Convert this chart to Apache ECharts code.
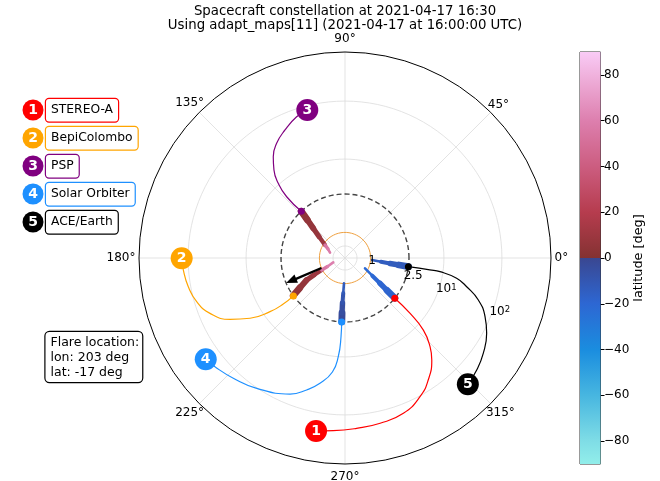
<!DOCTYPE html>
<html><head><meta charset="utf-8">
<script src="https://cdn.jsdelivr.net/npm/echarts@6.0.0/dist/echarts.min.js"></script>
<style>html,body{margin:0;padding:0;background:#fff}#c{width:660px;height:481px}</style>
</head><body><div id="c"></div>
<script>
// ---------------- data (lon [deg], R [solar radii]) ----------------
const scNames = ['STEREO-A', 'BepiColombo', 'PSP', 'Solar Orbiter', 'ACE/Earth'];
// Parker spirals, from source surface (2.5 Rs) out to the spacecraft
const spiralSTA  = [[321.1,2.5],[319.6,5.8],[317.4,13.5],[313.8,25.9],[310.4,40.1],[304.3,69.3],[298.4,103],[290.6,143],[282.0,161],[273.9,173],[266.1,190],[260.5,208]];
const spiralBepi = [[216.3,2.5],[216.7,4.19],[215.6,7.66],[212.4,17.1],[208.1,34.8],[202.3,64.6],[196.4,91.2],[190.4,110],[184.2,123],[180.1,129]];
const spiralPSP  = [[133.1,2.5],[133.6,5.66],[131.8,10.5],[128.9,17.6],[125.3,27.2],[120.8,39.5],[115.1,54],[108.9,74],[104.3,84.5]];
const spiralSolO = [[267.0,2.5],[267.1,4.5],[266.1,10.0],[263.7,18.7],[258.7,31.5],[253.8,46.1],[248.0,66.7],[235.9,102],[227.1,133],[219.9,165],[216.0,183]];
const spiralACE  = [[352.2,2.5],[352.0,5.9],[351.8,8.9],[349.7,17.8],[346.7,28.2],[342.5,50.7],[337.3,81.6],[332.0,115],[325.4,155],[319.6,189],[314.2,215]];
// PFSS field lines below the source surface: [lon, R, latitude]
const fieldSTA  = [[321.2,2.5,-18],[322.4,2.07,-19],[324.2,1.67,-20],[327.0,1.27,-21],[332.8,0.88,-22]];
const fieldBepi = [[216.0,2.5,5],[213.5,2.12,6],[209.9,1.73,8],[208.7,1.38,10],[207.2,1.02,55],[205.9,0.76,60],[200.2,0.49,65]];
const fieldPSP  = [[133.1,2.5,5],[134.6,2.09,6],[136.9,1.70,7],[140.5,1.31,9],[147.0,0.93,55],[152.1,0.75,58],[160.5,0.62,60]];
const fieldSolO = [[267.1,2.5,-2],[266.9,2.15,-5],[266.8,1.76,-9],[267.1,1.37,-13],[267.7,0.99,-18]];
const fieldACE  = [[352.2,2.5,-12],[352.6,2.13,-13],[353.0,1.77,-14],[354.0,1.41,-14],[355.8,1.06,-15]];
// flare
const flareLon = 203, flareLat = -17;
const flareFrom = 1.0, sourceSurface = 2.5, sunRadius = 1.0;
// axis ticks
const angleTicks = [0, 45, 90, 135, 180, 225, 270, 315];
const rTicks = [1, 2.5, 10, 100];
const rTickLabels = ['1', '2.5', '10{s|1}', '10{s|2}'];
const gridR = [0.47, 10, 100];
const cbTicks = [-80, -60, -40, -20, 0, 20, 40, 60, 80];

// ---------------- styles ----------------
const scColors = ['#ff0000', '#ffa500', '#800080', '#1e90ff', '#000000'];
const spirals = [spiralSTA, spiralBepi, spiralPSP, spiralSolO, spiralACE];
const fields = [fieldSTA, fieldBepi, fieldPSP, fieldSolO, fieldACE];
const FONT = '"DejaVu Sans"';
const cmapStops = [
  [-90, '#92eeea'], [-80, '#7fdde6'], [-60, '#47b6e0'], [-40, '#1a8ddf'], [-20, '#2d67d3'], [-0.001, '#3a4791'],
  [0.001, '#843232'], [20, '#b63c4e'], [40, '#cc5d80'], [60, '#dd7fae'], [80, '#f0b2dd'], [90, '#f9cbf6']
];
function hex2rgb(h){ return [1,3,5].map(i => parseInt(h.substr(i,2),16)); }
function cmap(lat){
  if (lat <= cmapStops[0][0]) return cmapStops[0][1];
  for (let i = 1; i < cmapStops.length; i++) {
    if (lat <= cmapStops[i][0]) {
      const [l0,c0] = cmapStops[i-1], [l1,c1] = cmapStops[i];
      const t = (lat - l0) / (l1 - l0), a = hex2rgb(c0), b = hex2rgb(c1);
      return 'rgb(' + a.map((v,k) => Math.round(v + (b[k]-v)*t)).join(',') + ')';
    }
  }
  return cmapStops[cmapStops.length-1][1];
}

// radial scale: linear inside source surface, logarithmic outside (plot units = px)
const LIN = 25.6, DEC = 58, RMAX_PX = 206;
function T(R){ return R <= sourceSurface ? LIN*R : LIN*sourceSurface + DEC*Math.log10(R/sourceSurface); }
function circlePts(R){ const p=[]; for(let a=0;a<=360;a+=3) p.push([T(R), a]); return p; }
const toPolar = p => [T(p[1]), p[0]];
const HIDDEN = {color:'rgba(0,0,0,0)', opacity:1};

const series = [];
gridR.forEach(R => series.push({type:'line', coordinateSystem:'polar', data:circlePts(R), symbol:'none', silent:true,
  lineStyle:{color:'#dcdcdc', width:0.8}, z:1}));
series.push({type:'line', coordinateSystem:'polar', data:circlePts(sunRadius), symbol:'none', silent:true,
  lineStyle:{color:'#eea040', width:1}, z:2});
series.push({type:'line', coordinateSystem:'polar', data:circlePts(sourceSurface), symbol:'none', silent:true,
  lineStyle:{color:'#444444', width:1.4, type:[5,3]}, z:2});

// spirals
spirals.forEach((sp, k) => series.push({type:'line', coordinateSystem:'polar', data:sp.map(toPolar), symbol:'none',
  smooth:0.5, lineStyle:{color:scColors[k], width:1.2}, z:3}));

// field lines, tapered & coloured by latitude
fields.forEach(fl => {
  const n = fl.length - 1;
  for (let i = 0; i < n; i++) {
    const t = n > 1 ? i/(n-1) : 0;
    series.push({type:'line', coordinateSystem:'polar', data:[toPolar(fl[i]), toPolar(fl[i+1])], symbol:'none', silent:true,
      lineStyle:{color:cmap(fl[i][2]), width:6.8 - 4.2*t, cap:'round'}, z:4});
  }
});

// flare arrow
const fr = flareLon*Math.PI/180;
series.push({type:'line', coordinateSystem:'polar', data:[[T(flareFrom), flareLon],[T(sourceSurface)-7, flareLon]], symbol:'none',
  lineStyle:{color:'#000', width:2.4}, z:7});
series.push({type:'scatter', coordinateSystem:'polar', data:[[T(sourceSurface), flareLon]], symbol:'triangle', symbolSize:[9,11],
  symbolRotate:flareLon-90, symbolOffset:[-5.5*Math.cos(fr), 5.5*Math.sin(fr)],
  itemStyle:{color:'#000', opacity:1}, z:7});

// footpoints on the source surface
series.push({type:'scatter', coordinateSystem:'polar', symbol:'circle', symbolSize:7, z:8,
  data: spirals.map((sp,k) => ({value: toPolar(sp[0]), itemStyle:{color:scColors[k], opacity:1}}))});

// spacecraft markers
series.push({type:'scatter', coordinateSystem:'polar', symbol:'circle', symbolSize:22, z:10,
  data: spirals.map((sp,k) => ({value: toPolar(sp[sp.length-1]), itemStyle:{color:scColors[k], opacity:1}})),
  label:{show:true, position:'inside', formatter: p => String(p.dataIndex+1), color:'#fff', fontWeight:'bold', fontSize:14, fontFamily:FONT}});

// radial tick labels
series.push({type:'scatter', coordinateSystem:'polar', symbolSize:1, itemStyle:HIDDEN, z:9, silent:true,
  data: rTicks.map(R => [T(R), 337.5]),
  label:{show:true, position:[0,0], align:'left', verticalAlign:'bottom', color:'#000', fontSize:12, fontFamily:FONT,
    formatter: p => rTickLabels[p.dataIndex], rich:{s:{fontSize:8.5, verticalAlign:'top', fontFamily:FONT, color:'#000'}}}});

// angle tick labels, centred just outside the outer circle
function angleLabelRadius(a){
  const txt = a + '°', w = 12*(0.636*(txt.length-1) + 0.5);
  const c = Math.abs(Math.cos(a*Math.PI/180)), s = Math.abs(Math.sin(a*Math.PI/180));
  return RMAX_PX + 3.5 + Math.max(c*w/2, s*9.5);
}
series.push({type:'scatter', coordinateSystem:'polar', symbolSize:1, itemStyle:HIDDEN, z:9, silent:true, clip:false,
  data: angleTicks.map(a => [angleLabelRadius(a), a]),
  label:{show:true, position:'inside', align:'center', verticalAlign:'middle', color:'#000', fontSize:12, fontFamily:FONT,
    formatter: p => angleTicks[p.dataIndex] + '°'}});

// colour bar
const cbStops = cmapStops.map(s => ({offset:(90 - s[0])/180, color:s[1]})).sort((a,b)=>a.offset-b.offset);
const cbGrad = {type:'linear', x:0, y:52, x2:0, y2:464, global:true, colorStops:cbStops};
series.push({type:'bar', xAxisIndex:0, yAxisIndex:0, stack:'cb', data:[90], barWidth:'100%', itemStyle:{color:cbGrad}, silent:true});
series.push({type:'bar', xAxisIndex:0, yAxisIndex:0, stack:'cb', data:[-90], barWidth:'100%', itemStyle:{color:cbGrad}, silent:true});

// graphic: title, legend, flare box, colour-bar name
const graphic = [];
graphic.push({type:'text', x:345, y:4, style:{text:'Spacecraft constellation at 2021-04-17 16:30\nUsing adapt_maps[11] (2021-04-17 at 16:00:00 UTC)',
  font:'13.3px ' + FONT, fill:'#000', align:'center', verticalAlign:'top', lineHeight:14.5}});
scNames.forEach((nm,k) => {
  const y = 110 + 28*k;
  graphic.push({type:'circle', shape:{cx:33, cy:y, r:10.5}, style:{fill:scColors[k]}});
  graphic.push({type:'text', x:33, y:y+0.5, style:{text:String(k+1), fill:'#fff', font:'bold 14px ' + FONT, align:'center', verticalAlign:'middle'}});
  graphic.push({type:'text', x:46, y:y-11, style:{text:nm, fill:'#000', font:'12.3px ' + FONT, align:'left', verticalAlign:'top',
    backgroundColor:'#fff', borderColor:scColors[k], borderWidth:1.2, borderRadius:3, padding:[4,5,4,5], lineHeight:14.5}});
});
graphic.push({type:'text', x:45.5, y:332, style:{text:'Flare location:\nlon: ' + flareLon + ' deg\nlat: ' + flareLat + ' deg',
  fill:'#000', font:'12.5px ' + FONT, align:'left', verticalAlign:'top', backgroundColor:'#fff', borderColor:'#000', borderWidth:1.2,
  borderRadius:4, padding:[3,3,2,5], lineHeight:15}});
graphic.push({type:'text', x:639, y:258, rotation:Math.PI/2, style:{text:'latitude [deg]', fill:'#000', font:'12.8px ' + FONT,
  align:'center', verticalAlign:'middle'}});

const option = {
  animation:false,
  textStyle:{fontFamily:FONT},
  polar:{center:[345,258], radius:RMAX_PX},
  angleAxis:{type:'value', min:0, max:360, interval:45, startAngle:0, clockwise:false,
    axisLine:{lineStyle:{color:'#000', width:1}}, axisTick:{show:false}, axisLabel:{show:false},
    splitLine:{show:true, lineStyle:{color:'#dcdcdc', width:0.8}}},
  radiusAxis:{type:'value', min:0, max:RMAX_PX, axisLine:{show:false}, axisTick:{show:false}, axisLabel:{show:false}, splitLine:{show:false}},
  grid:{left:580, top:52, width:20.5, height:412, show:true, borderColor:'#333', borderWidth:1, backgroundColor:'transparent'},
  xAxis:{type:'category', data:['latitude'], show:false, axisLine:{onZero:false}},
  yAxis:{type:'value', min:-90, max:90, position:'right',
    axisLine:{show:false, onZero:false}, splitLine:{show:false},
    axisTick:{show:true, length:4, customValues:cbTicks, lineStyle:{color:'#000'}},
    axisLabel:{show:false}},
  graphic: graphic,
  series: series
};
const chart = echarts.init(document.getElementById('c'), null, {width:660, height:481});
chart.setOption(option);
// colour-bar tick labels placed through the colour-bar's y scale
const yLo = chart.convertToPixel({yAxisIndex:0}, -90), yHi = chart.convertToPixel({yAxisIndex:0}, 90);
const cbLabelEls = cbTicks.map((v, i) => {
  let y = chart.convertToPixel({yAxisIndex:0}, v);
  if (!isFinite(y)) y = yLo + (yHi - yLo) * (v + 90) / 180;
  return {type:'text', id:'cbl' + i, x:604, y:y, z:100, zlevel:1, style:{text:String(v).replace('-', '\u2212'), fill:'#000',
    font:'12px ' + FONT, align:'left', verticalAlign:'middle'}};
});
chart.setOption({graphic: graphic.concat(cbLabelEls)});
</script></body></html>
